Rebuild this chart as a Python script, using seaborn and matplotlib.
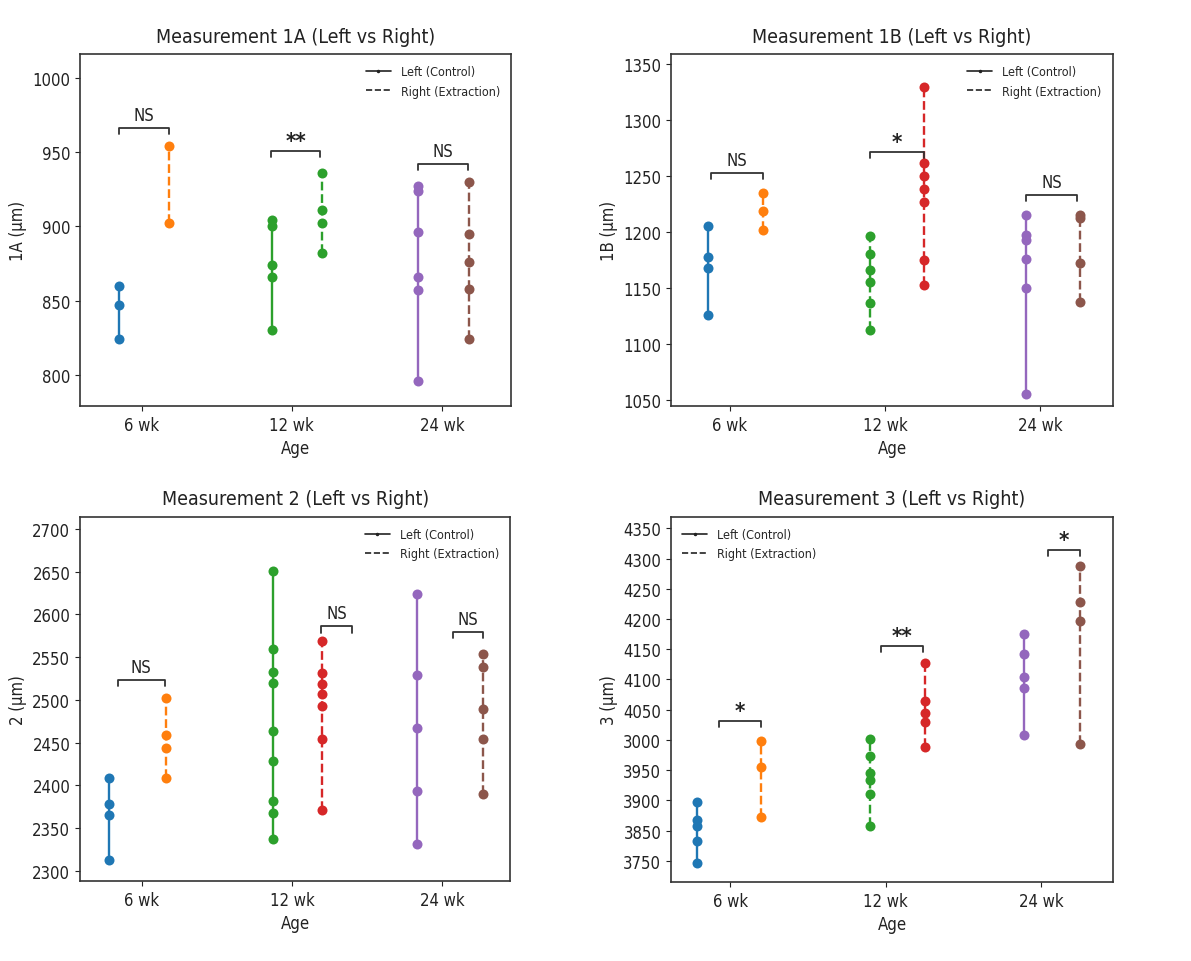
import matplotlib
matplotlib.use("Agg")
import matplotlib.pyplot as plt
from matplotlib.lines import Line2D
import pandas as pd
import seaborn as sns

ages = ["6 wk", "12 wk", "24 wk"]

# Measurement 1A (um), one list per age group
m1a_left = [[860, 847, 824], [904, 900, 874, 866, 830], [927, 924, 896, 866, 857, 796]]
m1a_right = [[954, 902], [936, 911, 902, 882], [930, 895, 876, 858, 824]]
m1a_sig = ["NS", "**", "NS"]

# Measurement 1B
m1b_left = [[1206, 1178, 1168, 1126], [1197, 1181, 1166, 1156, 1137, 1113],
            [1215, 1198, 1193, 1176, 1150, 1056]]
m1b_right = [[1235, 1219, 1202], [1330, 1262, 1250, 1239, 1227, 1175, 1153],
             [1215, 1213, 1173, 1138]]
m1b_sig = ["NS", "*", "NS"]

# Measurement 2
m2_left = [[2409, 2378, 2365, 2313], [2651, 2560, 2533, 2520, 2463, 2428, 2381, 2367, 2337],
           [2624, 2529, 2467, 2393, 2331]]
m2_right = [[2502, 2459, 2444, 2408], [2569, 2531, 2518, 2507, 2493, 2454, 2371],
            [2554, 2538, 2489, 2454, 2390]]
m2_sig = ["NS", "NS", "NS"]

# Measurement 3
m3_left = [[3897, 3868, 3857, 3833, 3797], [4002, 3974, 3945, 3933, 3910, 3858],
           [4175, 4143, 4104, 4086, 4008]]
m3_right = [[3999, 3956, 3872], [4128, 4065, 4045, 4029, 3988], [4287, 4228, 4196, 3994]]
m3_sig = ["*", "**", "*"]
# tick labels exactly as printed on the original chart
m3_ticks = [3800, 3850, 3900, 3950, 4000, 4050, 4100, 4150, 4200, 4250, 4300, 4350]
m3_ticklabels = ["3750", "3850", "3900", "3950", "3000", "4050", "4100", "4150",
                 "4200", "4250", "4300", "4350"]

sns.set_style("ticks")
plt.rcParams["font.family"] = ["DejaVu Sans"]
plt.rcParams["font.stretch"] = "condensed"

blue, orange, green, red, purple, brown = sns.color_palette("tab10")[:6]

panels = [
    dict(title="Measurement 1A (Left vs Right)", ylabel="1A (µm)", left=m1a_left, right=m1a_right,
         sig=m1a_sig, rect=[0.0672, 0.5769, 0.3619, 0.3659], ylim=(779, 1016), xlim=(-0.41, 2.46),
         yticks=[800, 850, 900, 950, 1000],
         colors=[(blue, orange), (green, green), (purple, brown)],
         styles=[("-", "--"), ("-", "--"), ("-", "--")],
         offs=[(-0.15, 0.18), (-0.13, 0.20), (-0.16, 0.18)],
         brk=[(-0.15, 0.18, 966), (-0.14, 0.19, 951), (-0.16, 0.17, 942)], leg="upper right"),
    dict(title="Measurement 1B (Left vs Right)", ylabel="1B (µm)", left=m1b_left, right=m1b_right,
         sig=m1b_sig, rect=[0.5634, 0.5769, 0.3711, 0.3659], ylim=(1045, 1359), xlim=(-0.38, 2.47),
         yticks=[1050, 1100, 1150, 1200, 1250, 1300, 1350],
         colors=[(blue, orange), (green, red), (purple, brown)],
         styles=[("-", "--"), ("--", "--"), ("-", "--")],
         offs=[(-0.14, 0.21), (-0.10, 0.25), (-0.09, 0.26)],
         brk=[(-0.12, 0.21, 1253), (-0.10, 0.25, 1272), (-0.09, 0.24, 1233)], leg="upper right"),
    dict(title="Measurement 2 (Left vs Right)", ylabel="2 (µm)", left=m2_left, right=m2_right,
         sig=m2_sig, rect=[0.0672, 0.0832, 0.3611, 0.3784], ylim=(2288, 2714), xlim=(-0.41, 2.45),
         yticks=[2300, 2350, 2400, 2450, 2500, 2550, 2600, 2650, 2700],
         colors=[(blue, orange), (green, red), (purple, brown)],
         styles=[("-", "--"), ("-", "--"), ("-", "--")],
         offs=[(-0.22, 0.16), (-0.13, 0.20), (-0.17, 0.27)],
         brk=[(-0.16, 0.155, 2523), (0.195, 0.40, 2586), (0.07, 0.27, 2579)], leg="upper right"),
    dict(title="Measurement 3 (Left vs Right)", ylabel="3 (µm)", left=m3_left, right=m3_right,
         sig=m3_sig, rect=[0.5634, 0.0822, 0.3711, 0.3794], ylim=(3765, 4369), xlim=(-0.38, 2.46),
         yticks=m3_ticks,
         colors=[(blue, orange), (green, red), (purple, brown)],
         styles=[("-", "--"), ("--", "--"), ("-", "--")],
         offs=[(-0.21, 0.20), (-0.10, 0.25), (-0.11, 0.25)],
         brk=[(-0.07, 0.20, 4032), (-0.03, 0.24, 4156), (0.04, 0.25, 4315)], leg="upper left"),
]

fig = plt.figure(figsize=(11.91, 9.62), dpi=100)

for p in panels:
    ax = fig.add_axes(p["rect"])
    for i in range(len(ages)):
        for k, vals in enumerate((p["left"][i], p["right"][i])):
            df = pd.DataFrame({"x": i + p["offs"][i][k], "y": vals})
            sns.lineplot(data=df, x="x", y="y", ax=ax, orient="y", estimator=None,
                         color=p["colors"][i][k], linestyle=p["styles"][i][k], linewidth=1.7,
                         marker="o", markersize=7.2, markeredgewidth=0)

    # significance brackets
    h = 0.017 * (p["ylim"][1] - p["ylim"][0])
    for i, (x0, x1, yb) in enumerate(p["brk"]):
        ax.plot([i + x0, i + x0, i + x1, i + x1], [yb - h, yb, yb, yb - h], color="#333333", lw=1.3)
        label = p["sig"][i]
        stars = label.startswith("*")
        ax.annotate(label, xy=(i + (x0 + x1) / 2, yb), xytext=(0, 0 if stars else 3),
                    textcoords="offset points", ha="center", va="bottom",
                    fontsize=16 if stars else 12, fontweight="bold" if stars else "normal",
                    color="#222222")

    ax.set_xlim(*p["xlim"])
    ax.set_ylim(*p["ylim"])
    ax.set_xticks(range(len(ages)))
    ax.set_xticklabels(ages)
    ax.set_yticks(p["yticks"])
    if p["yticks"] is m3_ticks:
        ax.set_yticklabels(m3_ticklabels)
    ax.tick_params(labelsize=12, colors="#222222")
    ax.set_title(p["title"], fontsize=14, pad=9, color="#222222")
    ax.set_xlabel("Age", fontsize=12, color="#222222")
    ax.set_ylabel(p["ylabel"], fontsize=12, color="#222222")
    for s in ax.spines.values():
        s.set_color("#333333")
        s.set_linewidth(1.2)

    handles = [Line2D([0], [0], color="#222222", lw=1.2, marker=".", markersize=3),
               Line2D([0], [0], color="#222222", lw=1.2, linestyle="--")]
    ax.legend(handles, ["Left (Control)", "Right (Extraction)"], loc=p["leg"], frameon=False,
              fontsize=9, handlelength=2.0)

fig.savefig("out.png", dpi=100, facecolor="white")
